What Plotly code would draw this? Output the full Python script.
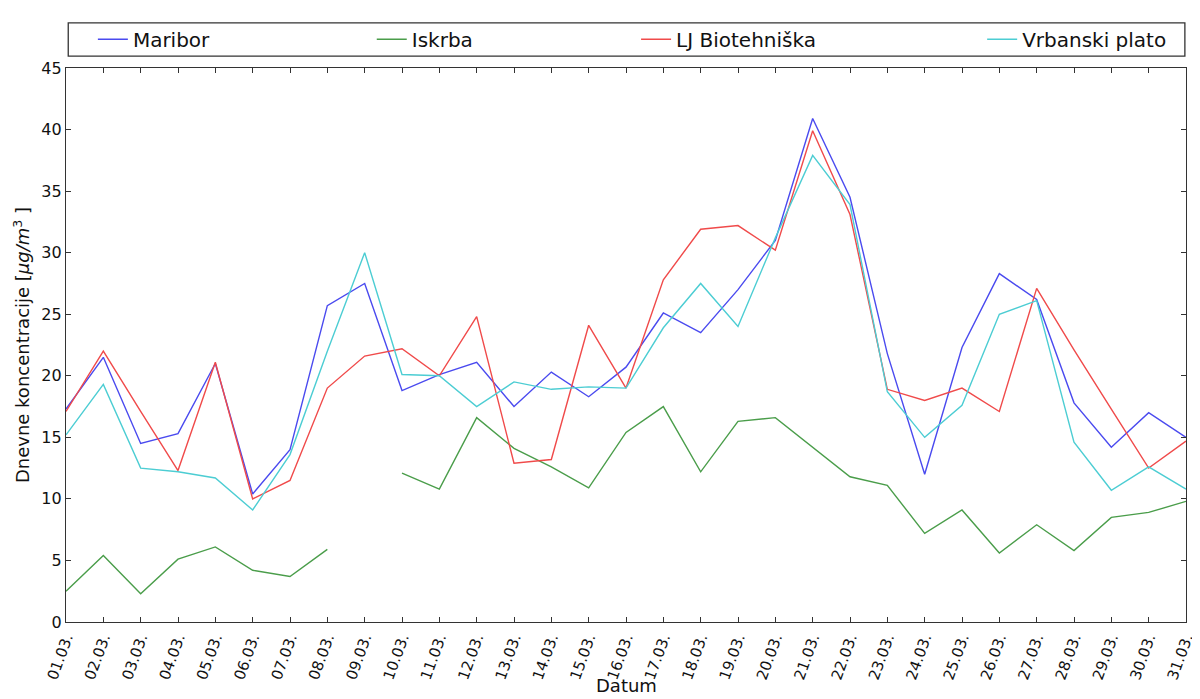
import plotly.graph_objects as go

dates = ["%02d.03." % d for d in range(1, 32)]

maribor = [17.3, 21.5, 14.5, 15.3, 21.0, 10.4, 14.0, 25.7, 27.5, 18.8,
           20.1, 21.1, 17.5, 20.3, 18.3, 20.7, 25.1, 23.5, 27.0, 31.0,
           40.9, 34.5, 21.8, 12.0, 22.3, 28.3, 26.2, 17.8, 14.2, 17.0, 15.0]
iskrba = [2.5, 5.4, 2.3, 5.1, 6.1, 4.2, 3.7, 5.9, None, 12.1,
          10.8, 16.6, 14.1, 12.6, 10.9, 15.4, 17.5, 12.2, 16.3, 16.6,
          14.2, 11.8, 11.1, 7.2, 9.1, 5.6, 7.9, 5.8, 8.5, 8.9, 9.8]
lj_biotehniska = [17.1, 22.0, 17.1, 12.3, 21.1, 10.0, 11.5, 19.0, 21.6, 22.2,
                  20.0, 24.8, 12.9, 13.2, 24.1, 19.0, 27.8, 31.9, 32.2, 30.2,
                  39.9, 33.1, 18.9, 18.0, 19.0, 17.1, 27.1, 22.1, 17.3, 12.5, 14.7]
vrbanski_plato = [15.2, 19.3, 12.5, 12.2, 11.7, 9.1, 13.6, 22.0, 30.0, 20.1,
                  20.0, 17.5, 19.5, 18.9, 19.1, 19.0, 23.9, 27.5, 24.0, 31.2,
                  37.9, 33.9, 18.7, 15.0, 17.6, 25.0, 26.1, 14.6, 10.7, 12.6, 10.8]

series = [
    ("Maribor", maribor, "#4a4aef", "legend", 0.024),
    ("Iskrba", iskrba, "#4a9d4a", "legend2", 0.273),
    ("LJ Biotehniška", lj_biotehniska, "#f04a4a", "legend3", 0.509),
    ("Vrbanski plato", vrbanski_plato, "#4ccdd3", "legend4", 0.818),
]

FONT = "DejaVu Sans"
fig = go.Figure()
legends = {}
for name, vals, color, leg, lx in series:
    fig.add_trace(go.Scatter(
        x=dates, y=vals, name=name, mode="lines",
        line=dict(color=color, width=1.4),
        connectgaps=False, legend=leg, showlegend=True,
    ))
    legends[leg] = dict(
        x=lx, y=1.052, xanchor="left", yanchor="middle",
        orientation="h", bgcolor="rgba(0,0,0,0)", borderwidth=0,
        font=dict(family=FONT, size=20, color="#111"),
        visible=True,
    )

fig.update_layout(showlegend=True, **legends)

axis_common = dict(
    showline=True, linecolor="#333", linewidth=1.3, mirror="ticks",
    ticks="inside", ticklen=5, tickcolor="#333", showgrid=False,
    zeroline=False,
)

fig.update_xaxes(
    **axis_common, type="category", range=[0, 30], tickangle=-70,
    tickfont=dict(family=FONT, size=15, color="#111"),
    automargin=False,
)
fig.update_yaxes(
    **axis_common, range=[0, 45], dtick=5,
    tickfont=dict(family=FONT, size=16, color="#111"),
    title=dict(text="Dnevne koncentracije [<i>μg/m</i><sup>3</sup> ]",
               font=dict(family=FONT, size=18, color="#111"), standoff=6),
    automargin=False,
)

fig.add_annotation(text="Datum", xref="paper", yref="paper", x=0.5, y=-0.114,
                   xanchor="center", yanchor="middle", showarrow=False,
                   font=dict(family=FONT, size=18, color="#111"))

fig.add_shape(type="rect", xref="paper", yref="paper",
              x0=0.002, x1=0.999, y0=1.0213, y1=1.0816,
              line=dict(color="#333", width=1.3), fillcolor="rgba(0,0,0,0)")

fig.update_layout(
    width=1192, height=691,
    margin=dict(l=58, r=14, t=50, b=77),
    plot_bgcolor="white", paper_bgcolor="white",
    font=dict(family=FONT),
)

fig.write_html("out.html")
